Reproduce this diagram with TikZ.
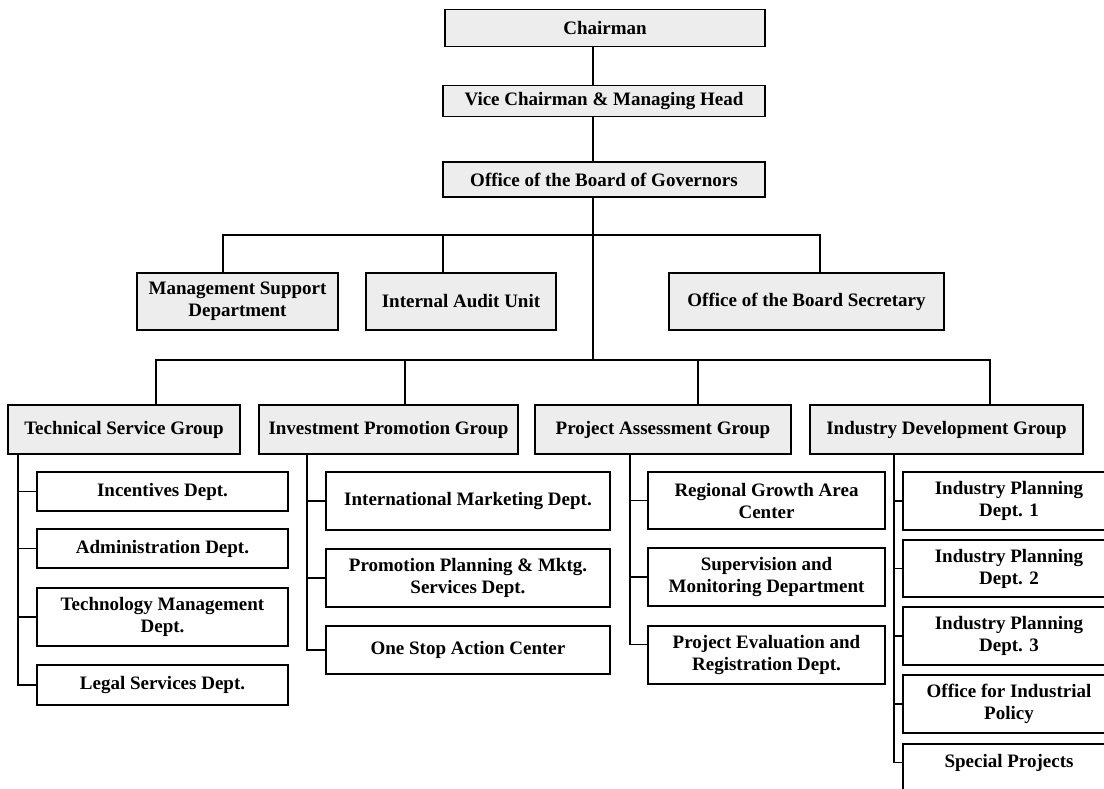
\documentclass[tikz,border=0pt]{standalone}
\usepackage{fontspec}
\setmainfont{Liberation Serif}
\usetikzlibrary{calc}
\begin{document}
\begin{tikzpicture}[x=1pt,y=-1pt,
  box/.style={draw=black, line width=1.5pt, inner sep=0pt, align=center,
              font=\fontsize{19}{22}\selectfont\bfseries},
  shaded/.style={box, fill=black!7},
  plain/.style={box, fill=white},
  link/.style={line width=1.3pt, line cap=rect}]
\useasboundingbox (0,0) rectangle (1104,788);
\clip (0,0) rectangle (1104,788);

% ---- top of the hierarchy
\node[shaded, minimum width=320, minimum height=37] (chair) at (605,28)  {Chairman};
\node[shaded, minimum width=322, minimum height=31] (vice)  at (604,101) {Vice Chairman \& Managing Head};
\node[shaded, minimum width=322, minimum height=35] (gov)   at (604,179.5) {Office of the Board of Governors};

% ---- staff units
\node[shaded, minimum width=201, minimum height=57] (mgmt)  at (237.5,301.5) {Management Support\\Department};
\node[shaded, minimum width=190, minimum height=57] (audit) at (461,301.5)   {Internal Audit Unit};
\node[shaded, minimum width=275, minimum height=57] (sec)   at (806.5,301.5) {Office of the Board Secretary};

% ---- groups
\node[shaded, minimum width=232, minimum height=49] (tech) at (124,429.5)   {Technical Service Group};
\node[shaded, minimum width=259, minimum height=49] (inv)  at (388.5,429.5) {Investment Promotion Group};
\node[shaded, minimum width=256, minimum height=49] (proj) at (663,429.5)   {Project Assessment Group};
\node[shaded, minimum width=273, minimum height=49] (ind)  at (946.5,429.5) {Industry Development Group};

% ---- Technical Service Group departments
\node[plain, minimum width=251, minimum height=39] (inc) at (162.5,491.5) {Incentives Dept.};
\node[plain, minimum width=251, minimum height=39] (adm) at (162.5,548.5) {Administration Dept.};
\node[plain, minimum width=251, minimum height=58] (tmg) at (162.5,617)   {Technology Management\\Dept.};
\node[plain, minimum width=251, minimum height=40] (leg) at (162.5,685)   {Legal Services Dept.};

% ---- Investment Promotion Group departments
\node[plain, minimum width=284, minimum height=58] (imk) at (468,501) {International Marketing Dept.};
\node[plain, minimum width=284, minimum height=58] (ppm) at (468,578) {Promotion Planning \& Mktg.\\Services Dept.};
\node[plain, minimum width=284, minimum height=48] (osa) at (468,650) {One Stop Action Center};

% ---- Project Assessment Group departments
\node[plain, minimum width=237, minimum height=57] (rga) at (766.5,500.5) {Regional Growth Area\\Center};
\node[plain, minimum width=237, minimum height=58] (sup) at (766.5,577)   {Supervision and\\Monitoring Department};
\node[plain, minimum width=237, minimum height=58] (pev) at (766.5,655)   {Project Evaluation and\\Registration Dept.};

% ---- Industry Development Group departments
\node[plain, minimum width=212, minimum height=58] (ip1) at (1009,501)   {Industry Planning\\Dept. 1};
\node[plain, minimum width=212, minimum height=57] (ip2) at (1009,568.5) {Industry Planning\\Dept. 2};
\node[plain, minimum width=212, minimum height=58] (ip3) at (1009,636)   {Industry Planning\\Dept. 3};
\node[plain, minimum width=212, minimum height=58] (oip) at (1009,704)   {Office for Industrial\\Policy};
\node[plain, minimum width=212, anchor=north, text height=24, text depth=33] (spj) at (1009,743) {Special Projects};

% ---- trunk and buses
\coordinate (tk) at (593,0);
\coordinate (vm) at (223,235);
\coordinate (va) at (443,235);
\coordinate (vs) at (820,235);
\coordinate (vt) at (156,360);
\coordinate (vi) at (405,360);
\coordinate (vp) at (698,360);
\coordinate (vd) at (990,360);

\draw[link] (chair.south -| tk) -- (vice.north -| tk);
\draw[link] (vice.south -| tk) -- (gov.north -| tk);
\draw[link] (gov.south -| tk) -- (tk |- vt);

\draw[link] (vm) -- (vs);
\draw[link] (vm) -- (vm |- mgmt.north);
\draw[link] (va) -- (va |- audit.north);
\draw[link] (vs) -- (vs |- sec.north);

\draw[link] (vt) -- (vd);
\draw[link] (vt) -- (vt |- tech.north);
\draw[link] (vi) -- (vi |- inv.north);
\draw[link] (vp) -- (vp |- proj.north);
\draw[link] (vd) -- (vd |- ind.north);

% ---- department spines
\coordinate (st) at (18,0);
\draw[link] (tech.south -| st) |- (leg.west);
\foreach \d in {inc,adm,tmg} \draw[link] (st |- \d.west) -- (\d.west);

\coordinate (si) at (307,0);
\draw[link] (inv.south -| si) |- (osa.west);
\foreach \d in {imk,ppm} \draw[link] (si |- \d.west) -- (\d.west);

\coordinate (sp) at (630,0);
\coordinate (pevc) at ($(pev.north west)!0.32!(pev.south west)$);
\draw[link] (proj.south -| sp) |- (pevc);
\foreach \d in {rga,sup} \draw[link] (sp |- \d.west) -- (\d.west);

\coordinate (sd) at (894,0);
\coordinate (spjc) at ($(spj.north west)!0.33!(spj.south west)$);
\draw[link] (ind.south -| sd) |- (spjc);
\foreach \d in {ip1,ip2,ip3,oip} \draw[link] (sd |- \d.west) -- (\d.west);
\end{tikzpicture}
\end{document}
